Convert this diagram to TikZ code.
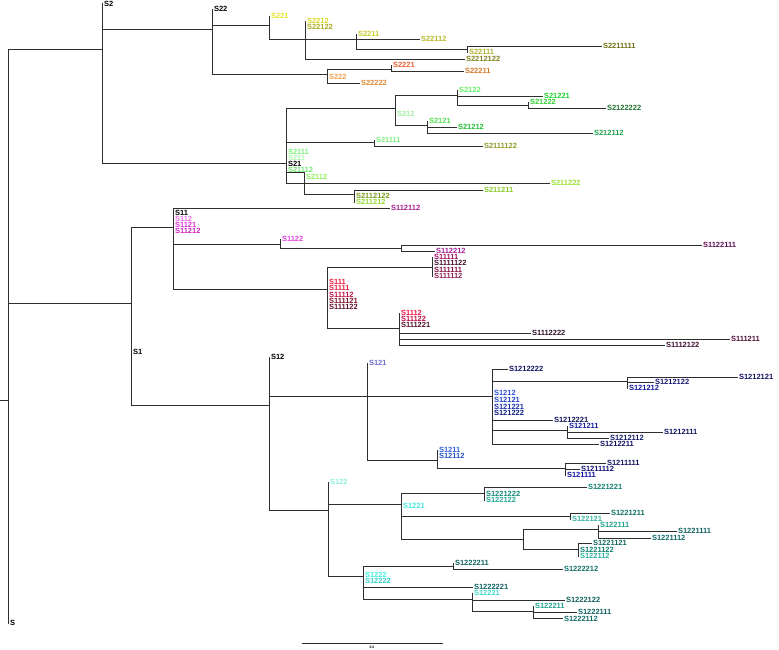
\documentclass[tikz,border=0pt]{standalone}
\usepackage{fontspec}
\setmainfont{Liberation Sans}
% yellows / oranges
\definecolor{cS221}{HTML}{E2E22A}
\definecolor{cS2212}{HTML}{D6D620}
\definecolor{cS22122}{HTML}{ABAB1E}
\definecolor{cS2211}{HTML}{CACA28}
\definecolor{cS22112}{HTML}{B8B828}
\definecolor{cS22111}{HTML}{B0B030}
\definecolor{cS2211111}{HTML}{6E6E12}
\definecolor{cS2212122}{HTML}{7E7E18}
\definecolor{cS222}{HTML}{F0A050}
\definecolor{cS22222}{HTML}{E08830}
\definecolor{cS2221}{HTML}{E86030}
\definecolor{cS22211}{HTML}{D87828}
% greens
\definecolor{cS2122}{HTML}{60F060}
\definecolor{cS21221}{HTML}{20D030}
\definecolor{cS21222}{HTML}{30D030}
\definecolor{cS2122222}{HTML}{207030}
\definecolor{cS212}{HTML}{A0F0A0}
\definecolor{cS2121}{HTML}{50E050}
\definecolor{cS21212}{HTML}{20C030}
\definecolor{cS212112}{HTML}{20A050}
\definecolor{cS21111}{HTML}{80F080}
\definecolor{cS2111122}{HTML}{909828}
\definecolor{cS2111}{HTML}{80F080}
\definecolor{cS211}{HTML}{B0F8B0}
\definecolor{cS21112}{HTML}{70E870}
\definecolor{cS2112}{HTML}{90F060}
\definecolor{cS211222}{HTML}{98E030}
\definecolor{cS211211}{HTML}{88C828}
\definecolor{cS2112122}{HTML}{7A9A20}
\definecolor{cS211212}{HTML}{90D830}
% magentas / reds
\definecolor{cS112112}{HTML}{A02090}
\definecolor{cS112}{HTML}{E870E8}
\definecolor{cS1121}{HTML}{E030D8}
\definecolor{cS11212}{HTML}{D020C0}
\definecolor{cS1122}{HTML}{E040E0}
\definecolor{cS1122111}{HTML}{601050}
\definecolor{cS112212}{HTML}{A02098}
\definecolor{cS11111}{HTML}{A01060}
\definecolor{cS1111122}{HTML}{401030}
\definecolor{cS111111}{HTML}{801040}
\definecolor{cS111112}{HTML}{902058}
\definecolor{cS111}{HTML}{F02040}
\definecolor{cS1111}{HTML}{E82040}
\definecolor{cS11112}{HTML}{C01040}
\definecolor{cS111121}{HTML}{801028}
\definecolor{cS111122}{HTML}{601030}
\definecolor{cS1112}{HTML}{F01848}
\definecolor{cS11122}{HTML}{C01040}
\definecolor{cS111221}{HTML}{501028}
\definecolor{cS1112222}{HTML}{301028}
\definecolor{cS111211}{HTML}{501038}
\definecolor{cS1112122}{HTML}{401030}
% blues
\definecolor{cS121}{HTML}{7070D0}
\definecolor{cS1212222}{HTML}{101060}
\definecolor{cS1212121}{HTML}{101060}
\definecolor{cS1212122}{HTML}{181870}
\definecolor{cS121212}{HTML}{1818A0}
\definecolor{cS1212}{HTML}{3050E0}
\definecolor{cS12121}{HTML}{2040C8}
\definecolor{cS121221}{HTML}{1830B0}
\definecolor{cS121222}{HTML}{102080}
\definecolor{cS1212221}{HTML}{101058}
\definecolor{cS121211}{HTML}{1020A0}
\definecolor{cS1212111}{HTML}{101060}
\definecolor{cS1212112}{HTML}{101868}
\definecolor{cS1212211}{HTML}{101060}
\definecolor{cS1211}{HTML}{3060E0}
\definecolor{cS12112}{HTML}{2050C0}
\definecolor{cS1211111}{HTML}{101060}
\definecolor{cS1211112}{HTML}{101070}
\definecolor{cS121111}{HTML}{1010A0}
% teals
\definecolor{cS122}{HTML}{90F0E0}
\definecolor{cS1221221}{HTML}{108070}
\definecolor{cS1221222}{HTML}{108878}
\definecolor{cS122122}{HTML}{20A898}
\definecolor{cS1221}{HTML}{40E8E0}
\definecolor{cS1221211}{HTML}{107060}
\definecolor{cS122121}{HTML}{30B0A0}
\definecolor{cS122111}{HTML}{20A090}
\definecolor{cS1221111}{HTML}{106060}
\definecolor{cS1221112}{HTML}{106868}
\definecolor{cS1221121}{HTML}{106860}
\definecolor{cS1221122}{HTML}{108070}
\definecolor{cS122112}{HTML}{30B0A0}
\definecolor{cS1222211}{HTML}{106060}
\definecolor{cS1222212}{HTML}{107068}
\definecolor{cS1222}{HTML}{40F0E0}
\definecolor{cS12222}{HTML}{30D0C8}
\definecolor{cS1222221}{HTML}{106060}
\definecolor{cS12221}{HTML}{40D8C8}
\definecolor{cS1222122}{HTML}{106060}
\definecolor{cS122211}{HTML}{20A090}
\definecolor{cS1222111}{HTML}{106060}
\definecolor{cS1222112}{HTML}{106868}
\begin{document}
\begin{tikzpicture}[x=1pt,y=-1pt,
  br/.style={draw=black!82, line width=0.75pt},
  lab/.style={anchor=west, inner sep=0.8pt, font=\fontsize{7.5}{7.5}\selectfont\bfseries},
  sblab/.style={inner sep=0.3pt, font=\fontsize{3.5}{4}\selectfont\bfseries}]
\useasboundingbox (0,0) rectangle (779,649);

% ---------- root ----------
\coordinate (stub) at (0,400);
\coordinate (R) at (8,400);
\coordinate (nS2) at (102,49);
\coordinate (nS1) at (131,303);
\node[lab] (S) at (9,623) {S};
\draw[br] (stub) -- (R);
\draw[br] (R) |- (nS2) (R) |- (nS1) (R) |- (S.west);

% ---------- S2 ----------
\coordinate (nS22) at (212,29);
\coordinate (nS21) at (286,163);
\node[lab] (S2) at (103,3.5) {S2};
\draw[br] (nS2) |- (nS22) (nS2) |- (nS21) (nS2) |- (S2.west);

% S22
\coordinate (nS221) at (269,25);
\coordinate (nS222) at (327,74);
\node[lab] (S22) at (213,9) {S22};
\draw[br] (nS22) |- (nS221) (nS22) |- (nS222) (nS22) |- (S22.west);

\coordinate (nS2212) at (305,39);
\node[lab,text=cS221] (S221) at (270,16) {S221};
\draw[br] (nS221) |- (S221.west) (nS221) |- (nS2212);

\coordinate (nS2211) at (356,39);
\node[lab,text=cS2212] (S2212) at (306,21) {S2212};
\node[lab,text=cS22122] (S22122) at (306,27) {S22122};
\node[lab,text=cS2212122] (S2212122) at (465,59) {S2212122};
\draw[br] (nS2212) |- (S2212.west) (nS2212) |- (nS2211) (nS2212) |- (S2212122.west);

\coordinate (nS22111) at (467,49);
\node[lab,text=cS2211] (S2211) at (357,34) {S2211};
\node[lab,text=cS22112] (S22112) at (420,39) {S22112};
\draw[br] (nS2211) |- (S2211.west) (nS2211) -- (S22112.west) (nS2211) |- (nS22111);

\node[lab,text=cS22111] (S22111) at (468,52) {S22111};
\node[lab,text=cS2211111] (S2211111) at (602,46) {S2211111};
\draw[br] (nS22111) |- (S22111.west) (nS22111) |- (S2211111.west);

\coordinate (nS2221) at (391,69);
\node[lab,text=cS222] (S222) at (328,77) {S222};
\node[lab,text=cS22222] (S22222) at (360,83) {S22222};
\draw[br] (nS222) |- (nS2221) (nS222) |- (S222.west) (nS222) |- (S22222.west);

\node[lab,text=cS2221] (S2221) at (392,65) {S2221};
\node[lab,text=cS22211] (S22211) at (464,71) {S22211};
\draw[br] (nS2221) |- (S2221.west) (nS2221) |- (S22211.west);

% S21
\coordinate (nS212) at (395,108);
\coordinate (nS21111) at (374,142);
\coordinate (nS2112) at (304,172);
\node[lab,text=cS2111] (S2111) at (287,152) {S2111};
\node[lab,text=cS211] (S211) at (287,158) {S211};
\node[lab] (S21) at (287,164) {S21};
\node[lab,text=cS21112] (S21112) at (287,170) {S21112};
\node[lab,text=cS211222] (S211222) at (550,183) {S211222};
\draw[br] (nS21) |- (nS212) (nS21) |- (nS21111) (nS21) |- (nS2112) (nS21) |- (S211222.west);

\coordinate (nS2122) at (457,95);
\coordinate (nS2121) at (427,125);
\node[lab,text=cS212] (S212) at (396,114) {S212};
\draw[br] (nS212) |- (nS2122) (nS212) |- (nS2121) (nS212) |- (S212.west);

\coordinate (nS21222) at (528,105);
\node[lab,text=cS2122] (S2122) at (458,90) {S2122};
\node[lab,text=cS21221] (S21221) at (543,96) {S21221};
\draw[br] (nS2122) |- (S2122.west) (nS2122) |- (S21221.west) (nS2122) |- (nS21222);

\node[lab,text=cS21222] (S21222) at (529,102) {S21222};
\node[lab,text=cS2122222] (S2122222) at (606,108) {S2122222};
\draw[br] (nS21222) |- (S21222.west) (nS21222) |- (S2122222.west);

\node[lab,text=cS2121] (S2121) at (428,121) {S2121};
\node[lab,text=cS21212] (S21212) at (457,127) {S21212};
\node[lab,text=cS212112] (S212112) at (593,133) {S212112};
\draw[br] (nS2121) |- (S2121.west) (nS2121) |- (S21212.west) (nS2121) |- (S212112.west);

\node[lab,text=cS21111] (S21111) at (375,140) {S21111};
\node[lab,text=cS2111122] (S2111122) at (483,146) {S2111122};
\draw[br] (nS21111) |- (S21111.west) (nS21111) |- (S2111122.west);

\coordinate (nS211212) at (354,194);
\node[lab,text=cS2112] (S2112) at (305,177) {S2112};
\draw[br] (nS2112) |- (nS211212);

\node[lab,text=cS2112122] (S2112122) at (355,196) {S2112122};
\node[lab,text=cS211212] (S211212) at (355,202) {S211212};
\node[lab,text=cS211211] (S211211) at (483,190) {S211211};
\draw[br] (nS211212) |- (S211212.west) (nS211212) |- (S211211.west);

% ---------- S1 ----------
\coordinate (nS11) at (173,227);
\coordinate (nS12) at (269,405);
\node[lab] (S1) at (132,352) {S1};
\draw[br] (nS1) |- (nS11) (nS1) |- (nS12) (nS1) |- (S1.west);

% S11
\coordinate (nS1122) at (280,244);
\coordinate (nS111) at (327,289);
\node[lab] (S11) at (174,213) {S11};
\node[lab,text=cS112] (S112) at (174,219) {S112};
\node[lab,text=cS1121] (S1121) at (174,225) {S1121};
\node[lab,text=cS11212] (S11212) at (174,231) {S11212};
\node[lab,text=cS112112] (S112112) at (390,208) {S112112};
\draw[br] (nS11) |- (S112112.west) (nS11) |- (nS1122) (nS11) |- (nS111);

\coordinate (nS11221) at (401,248);
\node[lab,text=cS1122] (S1122) at (281,239) {S1122};
\draw[br] (nS1122) |- (S1122.west) (nS1122) |- (nS11221);

\node[lab,text=cS1122111] (S1122111) at (702,245) {S1122111};
\node[lab,text=cS112212] (S112212) at (435,251) {S112212};
\draw[br] (nS11221) |- (S1122111.west) (nS11221) |- (S112212.west);

\coordinate (nS11111) at (432,267);
\coordinate (nS1112) at (399,328);
\node[lab,text=cS111] (S111) at (328,282) {S111};
\node[lab,text=cS1111] (S1111) at (328,288) {S1111};
\node[lab,text=cS11112] (S11112) at (328,295) {S11112};
\node[lab,text=cS111121] (S111121) at (328,301) {S111121};
\node[lab,text=cS111122] (S111122) at (328,307) {S111122};
\draw[br] (nS111) |- (nS11111) (nS111) |- (nS1112) (nS111) |- (S111.west);

\node[lab,text=cS11111] (S11111) at (433,257) {S11111};
\node[lab,text=cS1111122] (S1111122) at (433,263) {S1111122};
\node[lab,text=cS111111] (S111111) at (433,270) {S111111};
\node[lab,text=cS111112] (S111112) at (433,276) {S111112};
\draw[br] (nS11111) |- (S11111.west) (nS11111) |- (S111112.west);

\node[lab,text=cS1112] (S1112) at (400,313) {S1112};
\node[lab,text=cS11122] (S11122) at (400,319) {S11122};
\node[lab,text=cS111221] (S111221) at (400,325) {S111221};
\node[lab,text=cS1112222] (S1112222) at (531,333) {S1112222};
\node[lab,text=cS111211] (S111211) at (730,339) {S111211};
\node[lab,text=cS1112122] (S1112122) at (665,345) {S1112122};
\draw[br] (nS1112) |- (S1112.west) (nS1112) |- (S1112222.west) (nS1112) |- (S111211.west) (nS1112) |- (S1112122.west);

% S12
\coordinate (nS121) at (367,396);
\coordinate (nS122) at (328,510);
\node[lab] (S12) at (270,357) {S12};
\draw[br] (nS12) |- (nS121) (nS12) |- (nS122) (nS12) |- (S12.west);

\coordinate (nS1212) at (492,396);
\coordinate (nS1211) at (437,460);
\node[lab,text=cS121] (S121) at (368,363) {S121};
\draw[br] (nS121) -- (nS1212) (nS121) |- (nS1211) (nS121) |- (S121.west);

\coordinate (nS121212) at (627,381);
\coordinate (nS121211) at (567,430);
\node[lab,text=cS1212] (S1212) at (493,393) {S1212};
\node[lab,text=cS12121] (S12121) at (493,400) {S12121};
\node[lab,text=cS121221] (S121221) at (493,407) {S121221};
\node[lab,text=cS121222] (S121222) at (493,413) {S121222};
\node[lab,text=cS1212222] (S1212222) at (508,369) {S1212222};
\node[lab,text=cS1212221] (S1212221) at (553,420) {S1212221};
\node[lab,text=cS1212211] (S1212211) at (599,444) {S1212211};
\draw[br] (nS1212) |- (S1212222.west) (nS1212) |- (nS121212) (nS1212) |- (S1212221.west)
  (nS1212) |- (nS121211) (nS1212) |- (S1212211.west);

\node[lab,text=cS121212] (S121212) at (628,388) {S121212};
\node[lab,text=cS1212121] (S1212121) at (738,377) {S1212121};
\node[lab,text=cS1212122] (S1212122) at (654,382) {S1212122};
\draw[br] (nS121212) |- (S1212121.west) (nS121212) |- (S1212122.west) (nS121212) |- (S121212.west);

\node[lab,text=cS121211] (S121211) at (568,426) {S121211};
\node[lab,text=cS1212111] (S1212111) at (663,432) {S1212111};
\node[lab,text=cS1212112] (S1212112) at (609,438) {S1212112};
\draw[br] (nS121211) |- (S121211.west) (nS121211) |- (S1212111.west) (nS121211) |- (S1212112.west);

\coordinate (nS121111) at (565,468);
\node[lab,text=cS1211] (S1211) at (438,450) {S1211};
\node[lab,text=cS12112] (S12112) at (438,456) {S12112};
\draw[br] (nS1211) |- (S1211.west) (nS1211) |- (nS121111);

\node[lab,text=cS121111] (S121111) at (566,475) {S121111};
\node[lab,text=cS1211111] (S1211111) at (606,463) {S1211111};
\node[lab,text=cS1211112] (S1211112) at (580,469) {S1211112};
\draw[br] (nS121111) |- (S1211111.west) (nS121111) |- (S1211112.west) (nS121111) |- (S121111.west);

% S122
\coordinate (nS1221) at (401,504);
\coordinate (nS1222) at (363,576);
\node[lab,text=cS122] (S122) at (329,482) {S122};
\draw[br] (nS122) |- (S122.west) (nS122) |- (nS1221) (nS122) |- (nS1222);

\coordinate (nS122122) at (484,493);
\coordinate (nS122121) at (570,516);
\coordinate (nS12211) at (523,539);
\node[lab,text=cS1221] (S1221) at (402,506) {S1221};
\draw[br] (nS1221) |- (nS122122) (nS1221) |- (nS122121) (nS1221) |- (nS12211);

\node[lab,text=cS1221222] (S1221222) at (485,494) {S1221222};
\node[lab,text=cS122122] (S122122) at (485,500) {S122122};
\node[lab,text=cS1221221] (S1221221) at (587,487) {S1221221};
\draw[br] (nS122122) |- (S1221221.west) (nS122122) |- (S122122.west);

\node[lab,text=cS122121] (S122121) at (571,519) {S122121};
\node[lab,text=cS1221211] (S1221211) at (610,513) {S1221211};
\draw[br] (nS122121) |- (S1221211.west) (nS122121) |- (S122121.west);

\coordinate (nS122111) at (598,529);
\coordinate (nS122112) at (578,549);
\draw[br] (nS12211) |- (nS122111) (nS12211) |- (nS122112);

\node[lab,text=cS122111] (S122111) at (599,525) {S122111};
\node[lab,text=cS1221111] (S1221111) at (677,531) {S1221111};
\node[lab,text=cS1221112] (S1221112) at (651,538) {S1221112};
\draw[br] (nS122111) |- (S122111.west) (nS122111) |- (S1221111.west) (nS122111) |- (S1221112.west);

\node[lab,text=cS1221121] (S1221121) at (592,543) {S1221121};
\node[lab,text=cS1221122] (S1221122) at (579,550) {S1221122};
\node[lab,text=cS122112] (S122112) at (579,556) {S122112};
\draw[br] (nS122112) |- (S1221121.west) (nS122112) |- (S122112.west);

\coordinate (nS1222211) at (453,566);
\coordinate (nS12221) at (472,599);
\node[lab,text=cS1222] (S1222) at (364,575) {S1222};
\node[lab,text=cS12222] (S12222) at (364,581) {S12222};
\node[lab,text=cS1222221] (S1222221) at (473,587) {S1222221};
\draw[br] (nS1222) |- (nS1222211) (nS1222) |- (S1222221.west) (nS1222) |- (nS12221);

\node[lab,text=cS1222211] (S1222211) at (454,563) {S1222211};
\node[lab,text=cS1222212] (S1222212) at (563,569) {S1222212};
\draw[br] (nS1222211) |- (S1222211.west) (nS1222211) |- (S1222212.west);

\coordinate (nS122211) at (533,611);
\node[lab,text=cS12221] (S12221) at (473,593) {S12221};
\node[lab,text=cS1222122] (S1222122) at (565,600) {S1222122};
\draw[br] (nS12221) |- (S12221.west) (nS12221) |- (S1222122.west) (nS12221) |- (nS122211);

\node[lab,text=cS122211] (S122211) at (534,606) {S122211};
\node[lab,text=cS1222111] (S1222111) at (577,612) {S1222111};
\node[lab,text=cS1222112] (S1222112) at (563,618.5) {S1222112};
\draw[br] (nS122211) |- (S122211.west) (nS122211) |- (S1222111.west) (nS122211) |- (S1222112.west);

% ---------- scale bar ----------
\coordinate (sb1) at (302,643);
\coordinate (sb2) at (443,643);
\draw[br] (sb1) -- (sb2);
\node[sblab] (sbl) at (372,647.5) {0.2};
\end{tikzpicture}
\end{document}
